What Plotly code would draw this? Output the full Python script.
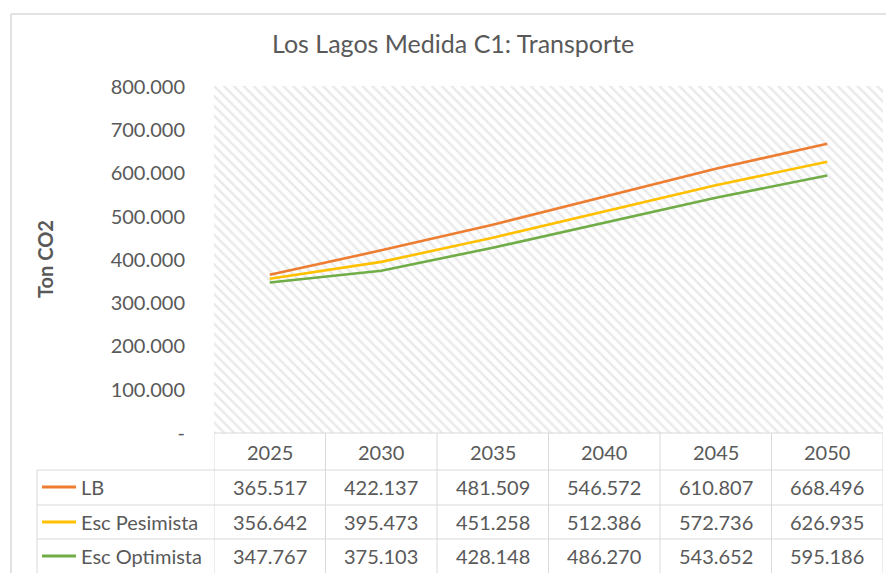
import plotly.graph_objects as go

# ---- data -------------------------------------------------------------
years = [2025, 2030, 2035, 2040, 2045, 2050]
series_names = ["LB", "Esc Pesimista", "Esc Optimista"]
lb = [365517, 422137, 481509, 546572, 610807, 668496]
esc_pesimista = [356642, 395473, 451258, 512386, 572736, 626935]
esc_optimista = [347767, 375103, 428148, 486270, 543652, 595186]
y_ticks = [0, 100000, 200000, 300000, 400000, 500000, 600000, 700000, 800000]

series_values = [lb, esc_pesimista, esc_optimista]
series_colors = ["#ED7D31", "#FFC000", "#70AD47"]

TITLE = "Los Lagos Medida C1: Transporte"
Y_TITLE = "Ton CO2"

# ---- geometry ----------------------------------------------------------
W, H = 886, 573
PL, PR, PT, PB = 214, 883, 86, 433          # plot area in pixels
PW, PH = PR - PL, PB - PT
TEXT = "#595959"
GRID = "#d9d9d9"
FONT = "Lato"

X_RANGE = [years[0] - 2.5, years[-1] + 2.5]
Y_RANGE = [0, 802000]


def px(xp):
    return (xp - PL) / PW


def py(yp):
    return (PB - yp) / PH


def fmt(v):
    """Thousands with '.' separator; zero shown as a dash."""
    if v == 0:
        return "-"
    return f"{v:,.0f}".replace(",", ".")


def label(x, y, text, xref="paper", size=20, **kw):
    d = dict(x=x, y=y, xref=xref, yref="paper", text=text, showarrow=False,
             xanchor="center", yanchor="middle",
             font=dict(size=size, color=TEXT, family=FONT))
    d.update(kw)
    return d


fig = go.Figure()

# hatched plot-area background
fig.add_trace(go.Scatter(
    x=[X_RANGE[0], X_RANGE[1], X_RANGE[1], X_RANGE[0], X_RANGE[0]],
    y=[Y_RANGE[0], Y_RANGE[0], Y_RANGE[1], Y_RANGE[1], Y_RANGE[0]],
    mode="none", fill="toself", fillcolor="white",
    fillpattern=dict(shape="\\", fgcolor="#d4d4d4", bgcolor="white",
                     size=7, solidity=0.35),
    hoverinfo="skip", showlegend=False,
))

for name, vals, col in zip(series_names, series_values, series_colors):
    fig.add_trace(go.Scatter(
        x=years, y=vals, mode="lines", name=name,
        line=dict(color=col, width=2.6), showlegend=False,
    ))

shapes = []
annotations = []

# ---- data table below the plot ----------------------------------------
row_lines = [433, 470, 505, 539]
row_centers = [452, 487, 522, 556]
label_left = 37
line_style = dict(color=GRID, width=1)

# horizontal rules
shapes.append(dict(type="line", xref="paper", yref="paper",
                   x0=0, x1=1, y0=py(row_lines[0]), y1=py(row_lines[0]),
                   line=line_style))
for yl in row_lines[1:]:
    shapes.append(dict(type="line", xref="paper", yref="paper",
                       x0=px(label_left), x1=1, y0=py(yl), y1=py(yl),
                       line=line_style))
# vertical rules at column edges
for i in range(len(years) + 1):
    xe = years[0] - 2.5 + 5 * i
    shapes.append(dict(type="line", xref="x", yref="paper",
                       x0=xe, x1=xe, y0=py(row_lines[0]), y1=py(H),
                       line=line_style))
shapes.append(dict(type="line", xref="paper", yref="paper",
                   x0=px(label_left), x1=px(label_left),
                   y0=py(row_lines[1]), y1=py(H), line=line_style))

# header (years)
for yr in years:
    annotations.append(label(yr, py(row_centers[0]), str(yr), xref="x"))

# series rows
for r, (name, vals, col) in enumerate(zip(series_names, series_values, series_colors)):
    yc = py(row_centers[r + 1])
    shapes.append(dict(type="line", xref="paper", yref="paper",
                       x0=px(42), x1=px(76), y0=yc, y1=yc,
                       line=dict(color=col, width=3)))
    annotations.append(label(px(79), yc, name, xanchor="left"))
    for yr, v in zip(years, vals):
        annotations.append(label(yr, yc, fmt(v), xref="x"))

# chart-area border (top and left edges)
shapes.append(dict(type="line", xref="paper", yref="paper",
                   x0=px(11), x1=px(W), y0=py(14), y1=py(14),
                   line=dict(color=GRID, width=1.5)))
shapes.append(dict(type="line", xref="paper", yref="paper",
                   x0=px(11), x1=px(11), y0=py(14), y1=py(H),
                   line=dict(color=GRID, width=1.5)))

# titles
annotations.append(label(px(453), py(43), TITLE, size=25))
annotations.append(label(px(45), py(259), f"<b>{Y_TITLE}</b>", textangle=-90))

fig.update_layout(
    width=W, height=H,
    margin=dict(l=PL, r=W - PR, t=PT, b=H - PB, pad=0),
    paper_bgcolor="white", plot_bgcolor="white",
    font=dict(family=FONT, color=TEXT),
    shapes=shapes, annotations=annotations,
    xaxis=dict(range=X_RANGE, showgrid=False, zeroline=False,
               showticklabels=False, showline=False, fixedrange=True),
    yaxis=dict(range=Y_RANGE, showgrid=False, zeroline=False, showline=False,
               tickvals=y_ticks, ticktext=[fmt(v) for v in y_ticks],
               tickfont=dict(size=20, color=TEXT, family=FONT),
               ticks="", ticklabelstandoff=28, fixedrange=True),
    showlegend=False,
)

fig.write_html("out.html")
